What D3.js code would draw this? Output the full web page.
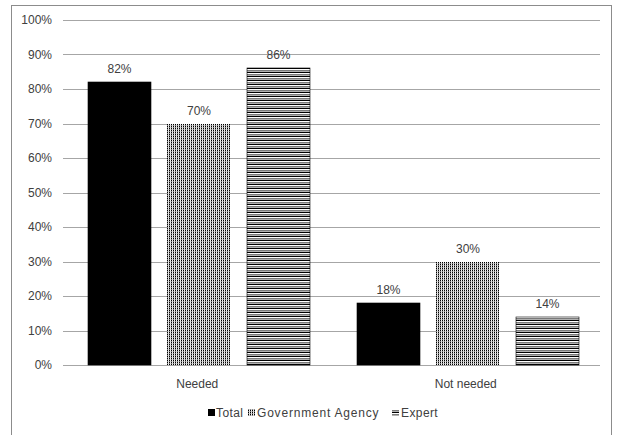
<!DOCTYPE html>
<html><head><meta charset="utf-8">
<script src="https://cdn.jsdelivr.net/npm/d3@7"></script>
<style>body{margin:0;background:#fff}svg{display:block}text{font-family:"Liberation Sans",Arial,sans-serif}</style>
</head><body><svg id="c" width="617" height="435"></svg>
<script>
const categories = ["Needed", "Not needed"];
const seriesNames = ["Total", "Government Agency", "Expert"];
const total = [82, 18];
const government = [70, 30];
const expert = [86, 14];
const yTicks = [0,10,20,30,40,50,60,70,80,90,100];

const svg = d3.select("#c");
const defs = svg.append("defs");
// dotted pattern
const p1 = defs.append("pattern").attr("id","dots").attr("patternUnits","userSpaceOnUse").attr("width",2).attr("height",2);
p1.append("rect").attr("width",2).attr("height",2).attr("fill","#d8d8d8");
p1.append("rect").attr("width",1).attr("height",1).attr("fill","#000");
p1.append("rect").attr("x",0).attr("y",1).attr("width",1).attr("height",1).attr("fill","#8a8a8a");
p1.append("rect").attr("x",1).attr("y",0).attr("width",1).attr("height",1).attr("fill","#f2f2f2");
// horizontal stripes
const p2 = defs.append("pattern").attr("id","stripes").attr("patternUnits","userSpaceOnUse").attr("width",4).attr("height",4);
p2.append("rect").attr("width",4).attr("height",4).attr("fill","#fff");
p2.append("rect").attr("width",4).attr("height",1).attr("fill","#000");
p2.append("rect").attr("y",2).attr("width",4).attr("height",1).attr("fill","#7a7a7a");
p2.append("rect").attr("y",3).attr("width",4).attr("height",1).attr("fill","#b0b0b0");

const fillsAll = ["#000", "url(#dots)", "url(#stripes)"];

// border
svg.append("rect").attr("x",11.5).attr("y",5.5).attr("width",600).attr("height",440)
  .attr("fill","none").attr("stroke","#8c8c8c");

const L=63, R=600, T=20, B=365;
const y = d3.scaleLinear().domain([0,100]).range([B,T]);
const x0 = d3.scaleBand().domain(categories).range([L,R]).padding(0);
const x1 = d3.scaleBand().domain(seriesNames).range([25, 247]).paddingInner(0.2075).paddingOuter(0);

// grid
svg.append("g").selectAll("line").data(yTicks).join("line")
  .attr("x1",L).attr("x2",R).attr("y1",d=>Math.round(y(d))+0.5).attr("y2",d=>Math.round(y(d))+0.5)
  .attr("stroke","#a6a6a6").attr("stroke-width",1);

// y axis labels
const yAxis = d3.axisLeft(y).tickValues(yTicks).tickFormat(d=>d+"%").tickSize(0).tickPadding(11);
const gy = svg.append("g").attr("transform",`translate(${L},0)`).call(yAxis);
gy.select(".domain").remove();
gy.selectAll("text").attr("font-size",12).attr("fill","#404040").style("font-family","Liberation Sans, Arial, sans-serif");

const data = [total, government, expert];
const groups = svg.append("g").selectAll("g").data(categories).join("g")
  .attr("transform",d=>`translate(${Math.round(x0(d))},0)`);
groups.each(function(cat, ci){
  const g = d3.select(this);
  seriesNames.forEach((s, si)=>{
    const v = data[si][ci];
    g.append("rect").attr("x",Math.round(x1(s))).attr("width",Math.round(x1.bandwidth()))
      .attr("y",Math.round(y(v))).attr("height",Math.round(y(0))-Math.round(y(v)))
      .attr("fill",fillsAll[si]).attr("stroke", "#000").attr("stroke-width",si===1?0:0.6);
    g.append("text").attr("x",x1(s)+x1.bandwidth()/2).attr("y",y(v)-9)
      .attr("text-anchor","middle").attr("font-size",12).attr("fill","#404040").text(v+"%");
  });
});

// x axis labels
const xAxis = d3.axisBottom(x0).tickSize(0).tickPadding(14);
const gx = svg.append("g").attr("transform",`translate(0,${B})`).call(xAxis);
gx.select(".domain").remove();
gx.selectAll("text").attr("font-size",12).attr("fill","#404040").style("font-family","Liberation Sans, Arial, sans-serif");

// legend
const legendIcon = [208, 248, 392];
const legendText = [216, 257, 401];
const lg = svg.append("g");
seriesNames.forEach((s,i)=>{
  lg.append("rect").attr("x",legendIcon[i]).attr("y",409).attr("width",7).attr("height",7).attr("fill",fillsAll[i]);
  lg.append("text").attr("x",legendText[i]).attr("y",417).attr("font-size",12).attr("letter-spacing",i===1?0.8:0.4).attr("fill","#404040").text(s);
});
</script></body></html>
